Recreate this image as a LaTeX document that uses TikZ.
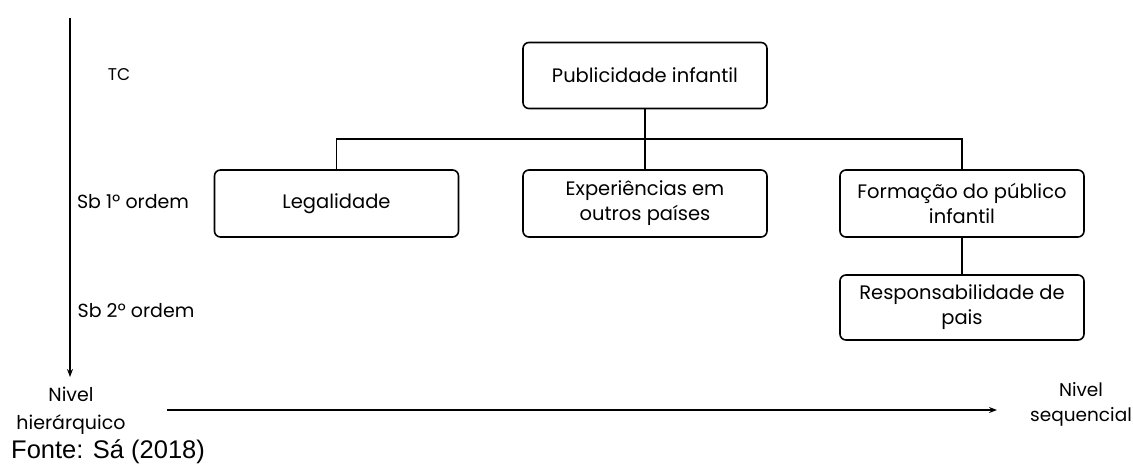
\documentclass[tikz,border=0pt]{standalone}
\usepackage{fontspec}
\setmainfont{Poppins}
\newfontfamily\arialfont{Liberation Sans}
\usetikzlibrary{arrows.meta}
\tikzset{
  box/.style={draw, line width=1.6pt, rounded corners=6pt, minimum width=244pt, minimum height=66pt, align=center, font=\fontsize{19.5}{25}\selectfont, inner sep=2pt},
  lbl/.style={font=\fontsize{19}{28}\selectfont, inner sep=0pt},
  conn/.style={line width=1.6pt},
  axis/.style={line width=1.4pt, -{Stealth[length=8pt,width=6pt]}}
}
\begin{document}
\begin{tikzpicture}[x=1pt,y=-1pt]
\useasboundingbox (0,0) rectangle (1133,464);
\fill[white] (0,0) rectangle (1133,464);
% boxes
\node[box] (pub) at (645,75.5) {Publicidade infantil};
\node[box, minimum height=67pt] (leg) at (336.5,203.5) {Legalidade};
\node[box, minimum height=67pt] (exp) at (645,203.5) {Experiências em\\outros países};
\node[box, minimum height=67pt] (form) at (962,203.5) {Formação do público\\infantil};
\node[box, minimum height=65pt] (resp) at (962,307.5) {Responsabilidade de\\pais};
% connectors
\coordinate (bar) at (645,139);
\draw[conn] (pub.south) -- (bar);
\draw[conn] (leg.north) -- (leg.north |- bar) -- (form.north |- bar) -- (form.north);
\draw[conn] (bar) -- (exp.north);
\draw[conn] (form.south) -- (resp.north);
% level labels
\node[lbl, font=\fontsize{17}{20}\selectfont] (tc) at (119,75) {TC};
\node[lbl] (sb1) at (133,202) {Sb 1º ordem};
\node[lbl] (sb2) at (136,311) {Sb 2º ordem};
% axes
\coordinate (vtop) at (70,18);
\coordinate (vbot) at (70,377);
\draw[axis] (vtop) -- (vbot);
\coordinate (hl) at (167,410);
\coordinate (hr) at (997,410);
\draw[axis] (hl) -- (hr);
\node[lbl, align=center, font=\fontsize{19}{28}\selectfont] (nh) at (71,411) {Nivel\\hierárquico};
\node[lbl, align=center, font=\fontsize{18.5}{25}\selectfont] (ns) at (1081,404.5) {Nivel\\sequencial};
\node[anchor=west, inner sep=0pt, font=\arialfont\fontsize{25.5}{30}\selectfont] (fonte) at (11,452) {Fonte: Sá (2018)};
\end{tikzpicture}
\end{document}
